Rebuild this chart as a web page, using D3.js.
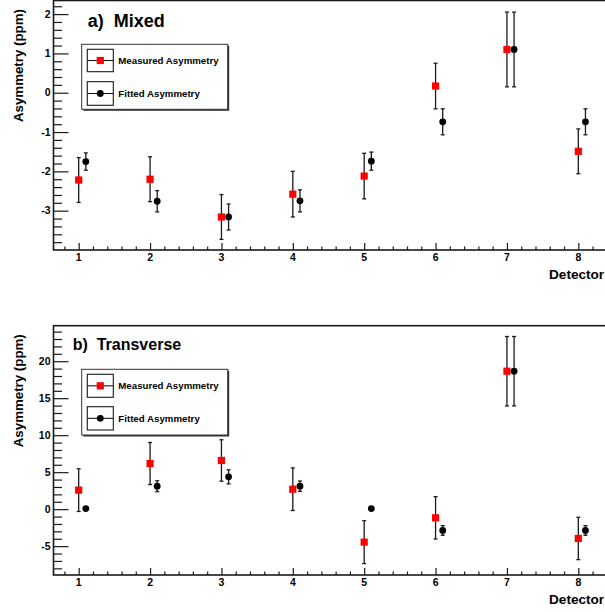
<!DOCTYPE html>
<html>
<head>
<meta charset="utf-8">
<script src="https://cdn.jsdelivr.net/npm/d3@7"></script>
<style>
  html, body { margin: 0; padding: 0; background: #fff; }
  svg { display: block; }
  text { font-family: "Liberation Sans", Arial, Helvetica, sans-serif; font-weight: bold; fill: #000; }
</style>
</head>
<body>
<div id="chart"></div>
<script>
// ---------------- data ----------------
const detectors = [1, 2, 3, 4, 5, 6, 7, 8];

const mixedMeasured      = [-2.22, -2.20, -3.16, -2.58, -2.12, 0.17, 1.10, -1.49];
const mixedMeasuredErr   = [0.57, 0.57, 0.57, 0.58, 0.58, 0.58, 0.95, 0.57];
const mixedFitted        = [-1.75, -2.76, -3.16, -2.75, -1.74, -0.74, 1.10, -0.74];
const mixedFittedErr     = [0.22, 0.27, 0.33, 0.28, 0.23, 0.33, 0.95, 0.33];

const transMeasured      = [2.57, 6.17, 6.58, 2.70, -4.46, -1.17, 18.65, -3.96];
const transMeasuredErr   = [2.88, 2.84, 2.80, 2.88, 2.90, 2.86, 4.69, 2.86];
const transFitted        = [0.08, 3.10, 4.37, 3.10, 0.08, -2.88, 18.65, -2.88];
const transFittedErr     = [0.05, 0.74, 0.95, 0.70, 0.05, 0.65, 4.69, 0.65];

const mixedYTicks  = [-3, -2, -1, 0, 1, 2];
const transYTicks  = [-5, 0, 5, 10, 15, 20];
const xTickLabels  = ["1", "2", "3", "4", "5", "6", "7", "8"];

const legendLabels = ["Measured Asymmetry", "Fitted Asymmetry"];
const xTitle = "Detector";
const yTitle = "Asymmetry (ppm)";

// ---------------- drawing ----------------
const W = 605, H = 612;
const svg = d3.select("#chart").append("svg").attr("width", W).attr("height", H);

const AXIS = "#1a1a1a";
const FIT_OFFSET = 0.1;

function drawPanel(p) {
  const g = svg.append("g");
  const x = d3.scaleLinear().domain([0.647, 8.5]).range([53.5, 614]);
  const y = d3.scaleLinear().domain(p.yDomain).range([p.bottom, p.top]);

  // frame
  g.append("rect")
    .attr("x", 53.5).attr("y", p.top)
    .attr("width", 614 - 53.5).attr("height", p.bottom - p.top)
    .attr("fill", "none").attr("stroke", AXIS).attr("stroke-width", 1.6);

  // x axis (ticks pointing inside)
  const xMinor = d3.range(0.8, 8.5, 0.2).filter(v => Math.abs(v - Math.round(v)) > 1e-6);
  const xAxis = d3.axisTop(x).tickValues(detectors).tickSize(7).tickFormat("");
  const xAxisMinor = d3.axisTop(x).tickValues(xMinor).tickSize(3.5).tickFormat("");
  [xAxis, xAxisMinor].forEach(ax => {
    const a = g.append("g").attr("transform", `translate(0,${p.bottom})`).call(ax);
    a.select(".domain").remove();
    a.selectAll("line").attr("stroke", AXIS).attr("stroke-width", 1.2);
  });
  g.selectAll(".xlab").data(detectors).enter().append("text")
    .attr("x", d => x(d)).attr("y", p.bottom + 10.5)
    .attr("text-anchor", "middle").attr("font-size", 10.5)
    .text((d, i) => xTickLabels[i]);

  // y axis (ticks pointing inside)
  const yAxis = d3.axisRight(y).tickValues(p.yTicks).tickSize(15).tickFormat("");
  const yAxisMinor = d3.axisRight(y).tickValues(p.yMinor).tickSize(8.5).tickFormat("");
  [yAxis, yAxisMinor].forEach(ax => {
    const a = g.append("g").attr("transform", `translate(53.5,0)`).call(ax);
    a.select(".domain").remove();
    a.selectAll("line").attr("stroke", AXIS).attr("stroke-width", 1.2);
  });
  g.selectAll(".ylab").data(p.yTicks).enter().append("text")
    .attr("x", 50.5).attr("y", d => y(d) + 3.7)
    .attr("text-anchor", "end").attr("font-size", 10.5)
    .text(d => d);

  // axis titles
  g.append("text")
    .attr("transform", `translate(23,${p.top + 8.5}) rotate(-90)`)
    .attr("text-anchor", "end").attr("font-size", 13.3)
    .text(yTitle);
  g.append("text")
    .attr("x", 549).attr("y", p.bottom + 28.5)
    .attr("font-size", 13.6)
    .text(xTitle);

  // panel title
  g.append("text")
    .attr("x", p.titleX).attr("y", p.titleY)
    .attr("font-size", p.titleSize)
    .attr("xml:space", "preserve")
    .style("white-space", "pre")
    .text(p.title);

  // error bars + markers
  function drawSeries(vals, errs, off, kind) {
    const s = g.append("g");
    vals.forEach((v, i) => {
      const cx = x(detectors[i] + off);
      const y1 = y(v + errs[i]), y2 = y(v - errs[i]);
      s.append("line").attr("x1", cx).attr("x2", cx).attr("y1", y1).attr("y2", y2)
        .attr("stroke", AXIS).attr("stroke-width", 1.3);
      [y1, y2].forEach(yy => s.append("line")
        .attr("x1", cx - 2).attr("x2", cx + 2).attr("y1", yy).attr("y2", yy)
        .attr("stroke", AXIS).attr("stroke-width", 1.3));
    });
    vals.forEach((v, i) => {
      const cx = x(detectors[i] + off), cy = y(v);
      if (kind === "square") {
        s.append("rect").attr("x", cx - 3.6).attr("y", cy - 3.6)
          .attr("width", 7.2).attr("height", 7.2).attr("fill", "#ff0000");
      } else {
        s.append("circle").attr("cx", cx).attr("cy", cy).attr("r", 3.4).attr("fill", "#000");
      }
    });
  }
  drawSeries(p.measured, p.measuredErr, 0, "square");
  drawSeries(p.fitted, p.fittedErr, FIT_OFFSET, "circle");

  // legend
  const L = p.legend;
  const lg = g.append("g");
  lg.append("rect").attr("x", L.x0 + 1.5).attr("y", L.y0 + 1.5)
    .attr("width", L.x1 - L.x0).attr("height", L.y1 - L.y0).attr("fill", "#333");
  lg.append("rect").attr("x", L.x0).attr("y", L.y0)
    .attr("width", L.x1 - L.x0).attr("height", L.y1 - L.y0)
    .attr("fill", "#fff").attr("stroke", "#333").attr("stroke-width", 1);
  L.entries.forEach((e, i) => {
    lg.append("rect").attr("x", 87.3).attr("y", e[0])
      .attr("width", 26).attr("height", e[1] - e[0])
      .attr("fill", "none").attr("stroke", AXIS).attr("stroke-width", 1.1);
    const cy = (e[0] + e[1]) / 2;
    lg.append("line").attr("x1", 87.3).attr("x2", 113.3).attr("y1", cy).attr("y2", cy)
      .attr("stroke", AXIS).attr("stroke-width", 1.1);
    if (i === 0) {
      lg.append("rect").attr("x", 100.3 - 3.6).attr("y", cy - 3.6)
        .attr("width", 7.2).attr("height", 7.2).attr("fill", "#ff0000");
    } else {
      lg.append("circle").attr("cx", 100.3).attr("cy", cy).attr("r", 3.4).attr("fill", "#000");
    }
    lg.append("text").attr("x", 118.3).attr("y", cy + 3.5)
      .attr("font-size", 9.7).text(legendLabels[i]);
  });
}

drawPanel({
  top: 0.5, bottom: 250,
  yDomain: [-4.0, 2.346],
  yTicks: mixedYTicks,
  yMinor: d3.range(-3.8, 2.35, 0.2).filter(v => Math.abs(v - Math.round(v)) > 1e-6),
  measured: mixedMeasured, measuredErr: mixedMeasuredErr,
  fitted: mixedFitted, fittedErr: mixedFittedErr,
  title: "a)  Mixed", titleX: 87.7, titleY: 26.7, titleSize: 18,
  legend: { x0: 81.7, x1: 227.7, y0: 44.3, y1: 109.3, entries: [[49.3, 71.7], [81.7, 105.3]] }
});

drawPanel({
  top: 325.7, bottom: 575,
  yDomain: [-8.9, 24.8],
  yTicks: transYTicks,
  yMinor: d3.range(-8, 25, 1).filter(v => v % 5 !== 0),
  measured: transMeasured, measuredErr: transMeasuredErr,
  fitted: transFitted, fittedErr: transFittedErr,
  title: "b)  Transverse", titleX: 72.7, titleY: 350, titleSize: 16,
  legend: { x0: 81.7, x1: 227.7, y0: 369.3, y1: 435, entries: [[374.3, 397.3], [406.7, 430]] }
});
</script>
</body>
</html>
